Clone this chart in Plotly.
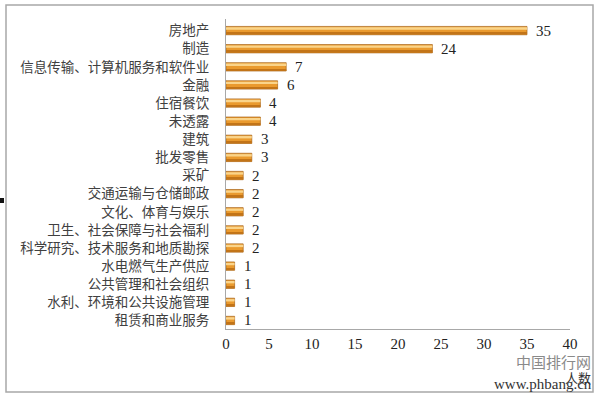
import plotly.graph_objects as go

categories = ["房地产", "制造", "信息传输、计算机服务和软件业", "金融", "住宿餐饮", "未透露",
              "建筑", "批发零售", "采矿", "交通运输与仓储邮政", "文化、体育与娱乐",
              "卫生、社会保障与社会福利", "科学研究、技术服务和地质勘探", "水电燃气生产供应",
              "公共管理和社会组织", "水利、环境和公共设施管理", "租赁和商业服务"]
values = [35, 24, 7, 6, 4, 4, 3, 3, 2, 2, 2, 2, 2, 1, 1, 1, 1]
x_ticks = [0, 5, 10, 15, 20, 25, 30, 35, 40]
axis_title = "人数"

# pixel geometry helpers
L, R, T, B = 226, 570, 19, 329
W, H = 600, 398
def px(x):
    return (x - L) / (R - L)
def py(y):
    return (B - y) / (B - T)

n = len(categories)
fig = go.Figure()
# base bar
fig.add_trace(go.Bar(y=categories, x=values, orientation="h", width=0.46,
                     marker=dict(color="#EA9A2E", line=dict(color="#A8641A", width=0.7)),
                     hoverinfo="skip", showlegend=False))
# shadow stripe (lower part)
fig.add_trace(go.Bar(y=categories, x=values, orientation="h", width=0.10, offset=0.12,
                     marker=dict(color="#C27418", line=dict(width=0)),
                     hoverinfo="skip", showlegend=False))
# highlight stripe (upper part)
fig.add_trace(go.Bar(y=categories, x=values, orientation="h", width=0.13, offset=-0.18,
                     marker=dict(color="#FAD48A", line=dict(width=0)),
                     hoverinfo="skip", showlegend=False))

for c, v in zip(categories, values):
    fig.add_annotation(x=v, y=c, text=str(v), showarrow=False, xanchor="left", xshift=7,
                       font=dict(family="Liberation Serif", size=15, color="#222222"))

# outer frame
fig.add_shape(type="rect", xref="paper", yref="paper",
              x0=px(6), x1=px(593), y0=py(392), y1=py(5),
              line=dict(color="#A8A8A8", width=1.5), fillcolor="rgba(0,0,0,0)")
fig.add_shape(type="rect", xref="paper", yref="paper",
              x0=px(0), x1=px(4), y0=py(203), y1=py(198),
              line=dict(width=0), fillcolor="#111111")

fig.add_annotation(xref="paper", yref="paper", x=px(578), y=py(377), text=axis_title,
                   xanchor="center", yanchor="middle",
                   showarrow=False, font=dict(family="Noto Sans CJK SC", size=13, color="#333333"))
fig.add_annotation(xref="paper", yref="paper", x=px(553), y=py(361), text="中国排行网",
                   xanchor="center", yanchor="middle",
                   showarrow=False, font=dict(family="Noto Sans CJK SC", size=15, color="#8A8A8A"))
fig.add_annotation(xref="paper", yref="paper", x=px(543), y=py(384), text="www.phbang.cn",
                   xanchor="center", yanchor="middle",
                   showarrow=False, font=dict(family="Liberation Serif", size=15, color="#333333"))

fig.update_layout(
    width=W, height=H, margin=dict(l=L, r=W - R, t=T, b=H - B),
    paper_bgcolor="white", plot_bgcolor="white", barmode="overlay",
    xaxis=dict(range=[0, 40], tickvals=x_ticks, showgrid=False, zeroline=False,
               showline=True, linecolor="#A8A8A8", linewidth=1, ticks="",
               ticklabelstandoff=1,
               tickfont=dict(family="Liberation Serif", size=15, color="#222222")),
    yaxis=dict(categoryorder="array", categoryarray=categories,
               range=[n - 0.53, -0.64], showgrid=False, zeroline=False,
               showline=True, linecolor="#A8A8A8", linewidth=1, ticks="",
               ticklabelstandoff=13,
               tickfont=dict(family="Noto Sans CJK SC", size=13.5, color="#404040")),
)
fig.write_html("out.html")
